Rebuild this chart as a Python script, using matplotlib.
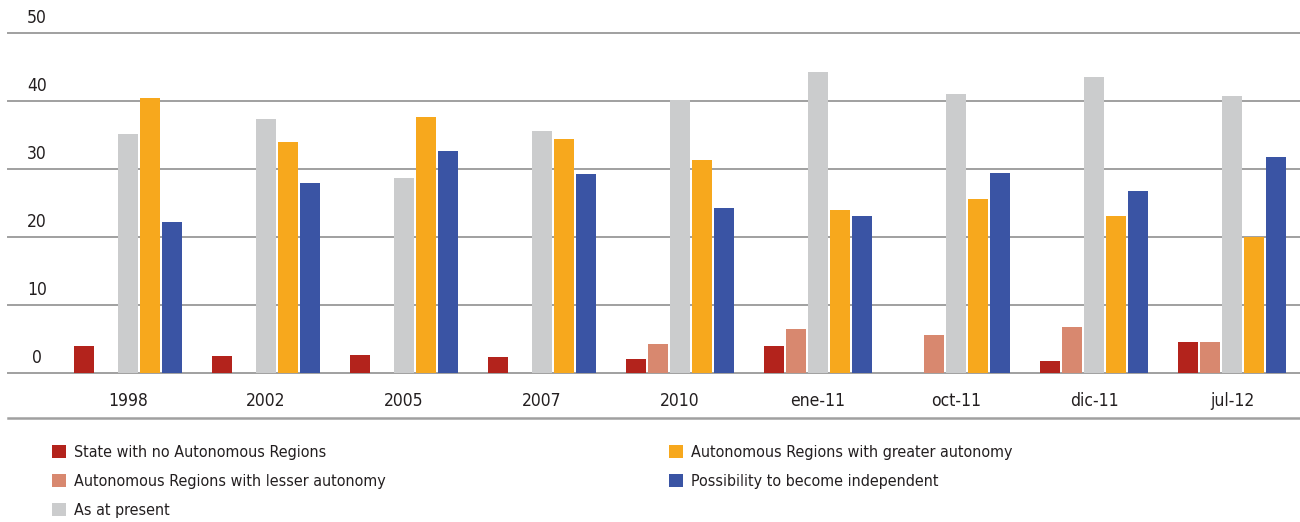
import numpy as np
import matplotlib.pyplot as plt
from matplotlib.lines import Line2D
from matplotlib.patches import Patch
from matplotlib.transforms import offset_copy

plt.rcParams['font.family'] = ['DejaVu Sans']
plt.rcParams['font.stretch'] = 'condensed'

# Survey waves and answer shares (%)
periods = ['1998', '2002', '2005', '2007', '2010', 'ene-11', 'oct-11', 'dic-11', 'jul-12']
no_autonomy = [3.9, 2.5, 2.7, 2.4, 2.1, 3.9, 0.0, 1.7, 4.6]
lesser_autonomy = [0.0, 0.0, 0.0, 0.0, 4.2, 6.5, 5.6, 6.7, 4.6]
as_present = [35.2, 37.4, 28.7, 35.6, 40.2, 44.3, 41.0, 43.5, 40.7]
greater_autonomy = [40.4, 34.0, 37.7, 34.4, 31.3, 24.0, 25.6, 23.1, 20.0]
independent = [22.2, 28.0, 32.7, 29.3, 24.3, 23.1, 29.4, 26.8, 31.8]

series = [
    ('State with no Autonomous Regions', no_autonomy, '#b3231c'),
    ('Autonomous Regions with lesser autonomy', lesser_autonomy, '#d8886f'),
    ('As at present', as_present, '#cbcccd'),
    ('Autonomous Regions with greater autonomy', greater_autonomy, '#f7a81d'),
    ('Possibility to become independent', independent, '#3a54a4'),
]

text_color = '#231f20'
grid_color = '#a0a0a0'
fs = 12.5
leg_fs = 11.5

W, H = 1300, 522
fig = plt.figure(figsize=(W / 100, H / 100), dpi=100)
ax = fig.add_axes([8 / W, (H - 373) / H, 1292 / W, 340 / H])

x = np.arange(len(periods))
step = 22 / 138
width = 20 / 138
for k, (name, vals, col) in enumerate(series):
    ax.bar(x + (k - 2) * step, vals, width=width, color=col, zorder=2)

for v in range(0, 51, 10):
    ax.axhline(v, color=grid_color, lw=1.4, zorder=1, clip_on=False)

ax.set_xlim(-120 / 138, 1172 / 138)
ax.set_ylim(0, 50)
for s in ax.spines.values():
    s.set_visible(False)
ax.set_yticks([])
ax.set_xticks(x)
ax.set_xticklabels(periods, fontsize=fs, color=text_color)
ax.tick_params(axis='x', length=0, pad=14)

# value labels sit above their gridlines
lab_tr = offset_copy(ax.get_yaxis_transform(), fig=fig, x=0, y=6, units='dots')
for v in range(0, 51, 10):
    ax.text(0.0225, v, str(v), transform=lab_tr, ha='center', va='bottom',
            fontsize=fs, color=text_color)

fig.add_artist(Line2D([8 / W, 1.0], [(H - 418) / H] * 2, color=grid_color, lw=1.8))

handles = [Patch(facecolor=c, edgecolor='none', label=n) for n, _, c in series]
leg_kw = dict(frameon=False, fontsize=leg_fs, labelcolor=text_color, handlelength=0.85,
              handleheight=0.85, handletextpad=0.55, labelspacing=0.87,
              borderpad=0, borderaxespad=0, loc='upper left')
fig.legend(handles=handles[:3], bbox_to_anchor=(52 / W, (H - 445) / H), **leg_kw)
fig.legend(handles=handles[3:], bbox_to_anchor=(669 / W, (H - 445) / H), **leg_kw)

fig.savefig('out.png', dpi=100)
